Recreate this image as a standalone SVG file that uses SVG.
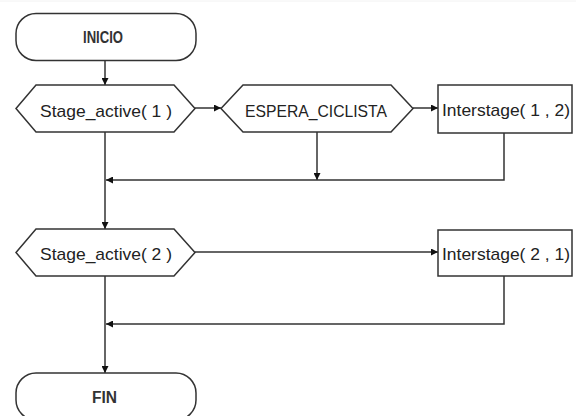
<svg xmlns="http://www.w3.org/2000/svg" width="576" height="416" viewBox="0 0 576 416">
<style>
.shape{fill:#fff;stroke:#333;stroke-width:1.5}
.conn{fill:none;stroke:#333;stroke-width:1.5}
text{font-family:"Liberation Sans",Arial,sans-serif;fill:#222;text-anchor:middle}
.t{font-size:17px}
.b{font-size:16px;font-weight:bold;fill:#333}
</style>
<defs>
<marker id="ah" viewBox="0 0 10 10" refX="10" refY="5" markerWidth="10" markerHeight="7" markerUnits="userSpaceOnUse" orient="auto">
<path d="M0,0 L10,5 L0,10 z" fill="#111"/>
</marker>
</defs>
<rect x="0" y="0" width="576" height="416" fill="#fff"/>
<line x1="0" y1="1" x2="576" y2="1" stroke="#f2f2f2" stroke-width="1"/>
<g id="connectors">
<path class="conn" d="M105,60 V85" marker-end="url(#ah)"/>
<path class="conn" d="M195,108 H221" marker-end="url(#ah)"/>
<path class="conn" d="M413,108 H438" marker-end="url(#ah)"/>
<path class="conn" d="M317,132 V180" marker-end="url(#ah)"/>
<path class="conn" d="M504,133 V180 H106" marker-end="url(#ah)"/>
<path class="conn" d="M105,132 V229" marker-end="url(#ah)"/>
<path class="conn" d="M195,252 H438" marker-end="url(#ah)"/>
<path class="conn" d="M504,276 V324 H106" marker-end="url(#ah)"/>
<path class="conn" d="M105,276 V373" marker-end="url(#ah)"/>
</g>
<g id="inicio">
<rect class="shape" x="16" y="13.5" width="180" height="47" rx="20" ry="20"/>
<text class="b" x="103" y="43" textLength="40" lengthAdjust="spacingAndGlyphs">INICIO</text>
</g>
<g id="stage1">
<polygon class="shape" points="16,108.5 36,85 174,85 195,108.5 174,132 36,132"/>
<text class="t" x="106" y="117" textLength="132" lengthAdjust="spacingAndGlyphs">Stage_active( 1 )</text>
</g>
<g id="espera">
<polygon class="shape" points="221,108.5 243,85 391,85 413,108.5 391,132 243,132"/>
<text class="t" x="316" y="117" textLength="142" lengthAdjust="spacingAndGlyphs">ESPERA_CICLISTA</text>
</g>
<g id="inter12">
<rect class="shape" x="438" y="85" width="134" height="48"/>
<text class="t" x="506" y="116" textLength="128" lengthAdjust="spacingAndGlyphs">Interstage( 1 , 2)</text>
</g>
<g id="stage2">
<polygon class="shape" points="16,252.5 36,229 174,229 195,252.5 174,276 36,276"/>
<text class="t" x="106" y="260" textLength="132" lengthAdjust="spacingAndGlyphs">Stage_active( 2 )</text>
</g>
<g id="inter21">
<rect class="shape" x="438" y="230" width="134" height="46"/>
<text class="t" x="506" y="260" textLength="128" lengthAdjust="spacingAndGlyphs">Interstage( 2 , 1)</text>
</g>
<g id="fin">
<rect class="shape" x="16" y="373" width="180" height="47" rx="20" ry="20"/>
<text class="b" x="104.5" y="403" textLength="25" lengthAdjust="spacingAndGlyphs">FIN</text>
</g>
</svg>
